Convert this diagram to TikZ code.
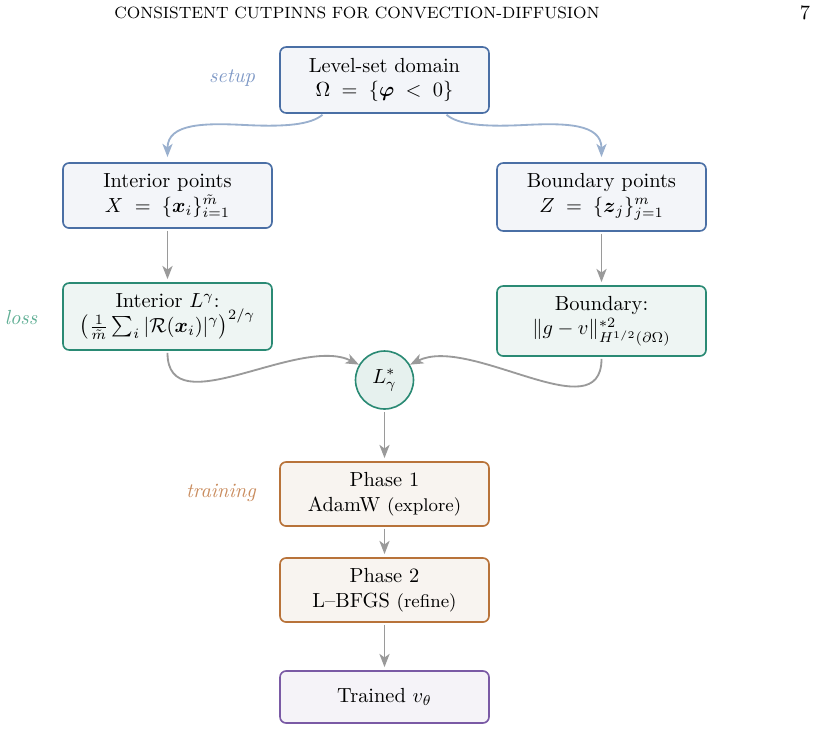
\documentclass[tikz,border=0pt]{standalone}
\usepackage{amsmath,amssymb}
\usetikzlibrary{arrows.meta,calc}
\definecolor{bluebd}{HTML}{4A6FA5}
\definecolor{bluefl}{HTML}{F3F5F9}
\definecolor{tealbd}{HTML}{2A8A74}
\definecolor{tealfl}{HTML}{EEF5F3}
\definecolor{circfl}{HTML}{E6F1EE}
\definecolor{orgbd}{HTML}{B8733A}
\definecolor{orgfl}{HTML}{F8F4F0}
\definecolor{purbd}{HTML}{7A5AA5}
\definecolor{purfl}{HTML}{F5F3F8}
\definecolor{arrgray}{HTML}{9A9A9A}
\definecolor{setuparr}{HTML}{9AB0CE}
\definecolor{setuplab}{HTML}{7F99C6}
\definecolor{losslab}{HTML}{5FAE94}
\definecolor{trainlab}{HTML}{C98C5E}
\begin{document}
\begin{tikzpicture}[x=0.49pt,y=-0.49pt,
  box/.style={draw, rounded corners=3pt, line width=0.8pt, align=center,
    minimum width=102.4pt, inner sep=2pt},
  bluebox/.style={box, draw=bluebd, fill=bluefl},
  tealbox/.style={box, draw=tealbd, fill=tealfl},
  orgbox/.style={box, draw=orgbd, fill=orgfl},
  purbox/.style={box, draw=purbd, fill=purfl},
  arr/.style={draw=arrgray, line width=0.9pt, -{Stealth[length=6.5pt,width=5pt,inset=1.8pt]}},
  sarr/.style={draw=setuparr, line width=0.9pt, -{Stealth[length=6.5pt,width=5pt,inset=1.8pt]}},
  grp/.style={font=\itshape}
]
\useasboundingbox (0,0) rectangle (816,752);

% header
\node[font=\footnotesize] (hdr) at (357,13) {CONSISTENT CUTPINNS FOR CONVECTION-DIFFUSION};
\node (pg) at (805,13) {7};

% nodes
\node[bluebox, minimum height=32.3pt] (lvl) at (384.5,80) {Level-set domain\\ $\Omega \;=\; \{\boldsymbol{\varphi} \;<\; 0\}$};
\node[bluebox, minimum height=31.9pt] (ip) at (167.5,195.5) {Interior points\\ $X \;=\; \{\boldsymbol{x}_i\}_{i=1}^{\tilde m}$};
\node[bluebox, minimum height=33.3pt] (bp) at (601.5,197) {Boundary points\\ $Z \;=\; \{\boldsymbol{z}_j\}_{j=1}^{m}$};
\node[tealbox, minimum height=32.8pt] (il) at (167.5,316.5) {Interior $L^{\gamma}$:\\ $\bigl(\tfrac{1}{\tilde m}\sum_i |\mathcal{R}(\boldsymbol{x}_i)|^{\gamma}\bigr)^{2/\gamma}$};
\node[tealbox, minimum height=34.3pt] (bl) at (601.5,321) {Boundary:\\ $\|g-v\|^{*2}_{H^{1/2}(\partial\Omega)}$};
\node[circle, draw=tealbd, fill=circfl, line width=0.8pt, minimum size=28.4pt, inner sep=0pt] (lc) at (384.5,380) {$L^{*}_{\gamma}$};
\node[orgbox, minimum height=31.4pt] (p1) at (384.5,494) {Phase 1\\ AdamW {\small(explore)}};
\node[orgbox, minimum height=31.4pt] (p2) at (384.5,590) {Phase 2\\ L--BFGS {\small(refine)}};
\node[purbox, minimum height=25.5pt] (tr) at (384.5,697) {Trained $v_{\theta}$};

% group labels
\node[grp, text=setuplab] (lsetup) at (232,78) {setup};
\node[grp, text=losslab] (lloss) at (21,318) {loss};
\node[grp, text=trainlab] (ltrain) at (221,493) {training};

% setup arrows
\coordinate (ls1) at ($(lvl.south)+(-62,1)$);
\coordinate (ls2) at ($(lvl.south)+(62,1)$);
\coordinate (m1) at (245,125);
\coordinate (m2) at (524,125);
\draw[sarr, shorten >=2.5pt] (ls1) .. controls +(-12,10) and +(40,2) .. (m1)
   .. controls +(-40,-2) and +(0,-39) .. (ip.north);
\draw[sarr, shorten >=2.5pt] (ls2) .. controls +(12,10) and +(-40,2) .. (m2)
   .. controls +(40,-2) and +(0,-39) .. (bp.north);

% straight arrows
\draw[arr, shorten <=1pt, shorten >=1.5pt] (ip.south) -- (ip.south |- il.north);
\draw[arr, shorten <=1pt, shorten >=1.5pt] (bp.south) -- (bp.south |- bl.north);
\draw[arr, shorten <=1pt, shorten >=1.5pt] (lc.south) -- (lc.south |- p1.north);
\draw[arr, shorten <=1pt, shorten >=1.5pt] (p1.south) -- (p2.north);
\draw[arr, shorten <=1pt, shorten >=1.5pt] (p2.south) -- (tr.north);

% loss arrows
\draw[arr, shorten <=1pt] (il.south) .. controls +(0,75) and +(-60,-30) .. (lc.149);
\draw[arr, shorten <=1pt] (bl.south) .. controls +(0,75) and +(60,-30) .. (lc.31);
\end{tikzpicture}
\end{document}
